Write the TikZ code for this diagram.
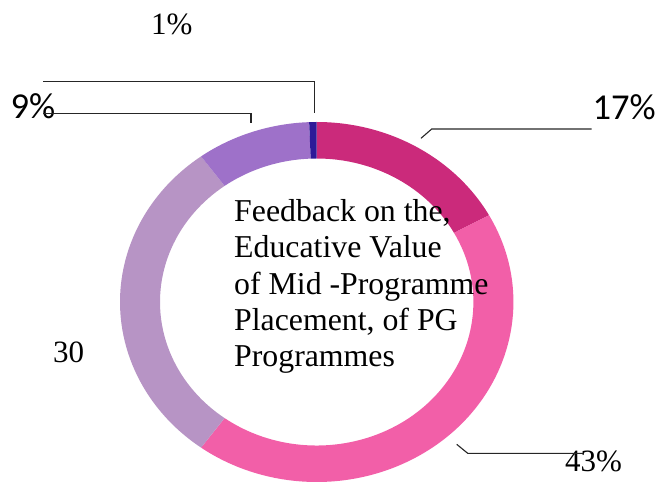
\documentclass[tikz,border=0pt]{standalone}
\usepackage{fontspec}
\setmainfont{Liberation Serif}
\newfontfamily\calsans{Carlito}
\usetikzlibrary{calc}
\definecolor{segA}{HTML}{CB2A7B}
\definecolor{segB}{HTML}{F25FA8}
\definecolor{segC}{HTML}{B794C5}
\definecolor{segD}{HTML}{9E71C9}
\definecolor{segE}{HTML}{2E1A98}
\definecolor{leadcol}{HTML}{262626}
\newcommand\ringseg[3]{%
  \fill[#1] ($(ctr)+(#2:196.7pt and 180pt)$)
    arc[start angle=#2, end angle=#3, x radius=196.7pt, y radius=180pt]
    -- ($(ctr)+(#3:156.7pt and 143.5pt)$)
    arc[start angle=#3, end angle=#2, x radius=156.7pt, y radius=143.5pt]
    -- cycle;}
\begin{document}
\begin{tikzpicture}[x=1pt,y=1pt,
  seriflbl/.style={inner sep=0pt, anchor=base west, font=\fontsize{31}{37}\selectfont},
  sanslbl/.style={inner sep=0pt, font=\calsans\fontsize{36.5}{43}\selectfont},
  leader/.style={draw=leadcol, line width=1.1pt}]
\useasboundingbox (0,0) rectangle (660,482);
\coordinate (ctr) at (316.7,180);
% ring segments (clockwise from top)
\ringseg{segA}{90}{28.8}
\ringseg{segB}{28.8}{-126}
\ringseg{segC}{-126}{-234}
\ringseg{segD}{-234}{-267.8}
\ringseg{segE}{-267.8}{-270}
% centre title
\node[inner sep=0pt, anchor=base west] (title) at (234,260.3)
  {\parbox[t]{330pt}{\raggedright\fontsize{31.8}{36.3}\selectfont
   Feedback on the,\\ Educative Value\\ of Mid -Programme\\ Placement, of PG\\ Programmes}};
% labels
\node[seriflbl] (p1) at (151,447) {1\%};
\node[sanslbl, anchor=base west] (p9) at (10.5,363) {9\%};
\node[sanslbl, anchor=base east] (p17) at (656,362.7) {17\%};
\node[seriflbl] (p30) at (53,119.7) {30};
\node[seriflbl] (p43) at (565,10.3) {43\%};
% leader lines
\coordinate (l1a) at (43.3,400.3);
\coordinate (l1b) at (314.3,400.3);
\coordinate (l1c) at (314.3,368.7);
\coordinate (l9a) at (43.3,368.7);
\coordinate (l9b) at (251,368.7);
\coordinate (l9c) at (251,359.3);
\coordinate (l17a) at (591.7,353);
\coordinate (l17b) at (431.7,353);
\coordinate (l17c) at (421,343.7);
\coordinate (l43a) at (456.7,37.7);
\coordinate (l43b) at (467.7,28.7);
\coordinate (l43c) at (583.3,28.7);
\draw[leader] (l1a) -- (l1b) -- (l1c);
\draw[leader] (l9a) -- (l9b) -- (l9c);
\draw[leader] (l17a) -- (l17b) -- (l17c);
\draw[leader] (l43a) -- (l43b) -- (l43c);
\end{tikzpicture}
\end{document}
